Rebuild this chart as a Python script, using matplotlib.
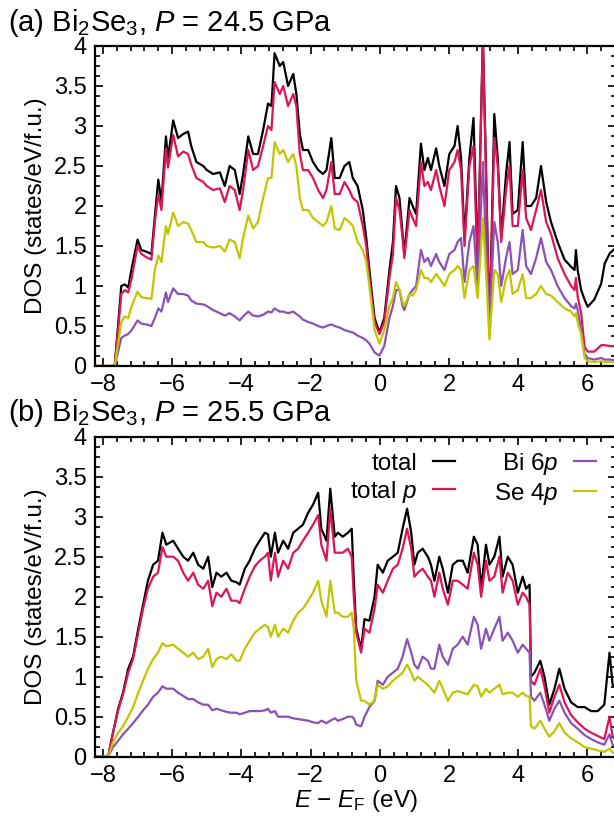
import numpy as np
import matplotlib
matplotlib.use("Agg")
import matplotlib.pyplot as plt
from matplotlib.ticker import MultipleLocator

plt.rcParams['font.family'] = ['Liberation Sans', 'DejaVu Sans']
plt.rcParams['mathtext.fontset'] = 'custom'
plt.rcParams['mathtext.rm'] = 'Liberation Sans'
plt.rcParams['mathtext.it'] = 'Liberation Sans:italic'
plt.rcParams['font.size'] = 17

# ---- panel (a): P = 24.5 GPa ----
e_a = [-8.23, -7.66, -7.47, -7.37, -7.27, -7.17, -7.0, -6.89, -6.75, -6.6,
       -6.5, -6.4, -6.31, -6.18, -6.12, -5.97, -5.83, -5.68, -5.54, -5.45,
       -5.3, -5.1, -5.0, -4.82, -4.62, -4.48, -4.34, -4.19, -4.05, -3.95,
       -3.8, -3.66, -3.52, -3.37, -3.23, -3.13, -3.04, -2.89, -2.79, -2.65,
       -2.5, -2.41, -2.31, -2.22, -2.07, -1.93, -1.78, -1.64, -1.54, -1.4,
       -1.3, -1.16, -1.02, -0.88, -0.78, -0.64, -0.49, -0.39, -0.3, -0.15,
       -0.01, 0.13, 0.28, 0.38, 0.47, 0.57, 0.66, 0.71, 0.86, 0.95,
       1.05, 1.19, 1.29, 1.39, 1.48, 1.63, 1.72, 1.87, 2.01, 2.16,
       2.25, 2.35, 2.45, 2.59, 2.71, 2.83, 2.98, 3.07, 3.17, 3.31,
       3.41, 3.51, 3.65, 3.75, 3.84, 3.99, 4.13, 4.23, 4.37, 4.52,
       4.66, 4.81, 4.95, 5.14, 5.34, 5.53, 5.63, 5.67, 5.72, 5.82,
       5.92, 6.01, 6.2, 6.4, 6.5, 6.65, 6.85]
tot_a = [0, 0, 1.0, 1.02, 0.98, 1.22, 1.58, 1.45, 1.43, 1.4,
         1.87, 2.33, 2.05, 2.87, 2.6, 3.07, 2.85, 2.9, 2.93, 2.75,
         2.55, 2.5, 2.45, 2.4, 2.42, 2.25, 2.5, 2.45, 2.15, 2.4,
         2.87, 2.65, 2.65, 2.95, 3.28, 3.25, 3.91, 3.75, 3.8, 3.5,
         3.65, 3.4, 2.9, 2.7, 2.7, 2.55, 2.45, 2.4, 2.45, 2.85,
         2.35, 2.35, 2.5, 2.55, 2.35, 2.25, 1.95, 1.6, 1.2, 0.6,
         0.42, 0.6, 1.2, 1.55, 2.25, 2.1, 1.65, 1.4, 2.1, 2.0,
         1.9, 2.78, 2.45, 2.6, 2.45, 2.72, 2.5, 2.25, 2.65, 2.75,
         3.0, 2.6, 1.6, 2.6, 3.1, 1.3, 4.1, 2.5, 0.4, 3.15,
         2.6, 1.6, 2.4, 2.8, 1.9, 1.95, 2.8, 2.0, 2.0, 2.1,
         2.5, 2.05, 1.8, 1.55, 1.33, 1.24, 1.2, 1.45, 1.2, 0.95,
         0.83, 0.74, 0.83, 1.03, 1.28, 1.41, 1.49]
totp_a = [0, 0, 0.9, 0.95, 0.92, 1.1, 1.5, 1.4, 1.36, 1.33,
          1.8, 2.15, 1.95, 2.72, 2.48, 2.89, 2.62, 2.68, 2.65, 2.52,
          2.35, 2.3, 2.25, 2.2, 2.22, 2.05, 2.25, 2.2, 1.95, 2.2,
          2.7, 2.45, 2.5, 2.75, 3.0, 2.95, 3.55, 3.4, 3.5, 3.25,
          3.4, 3.25, 2.65, 2.45, 2.45, 2.35, 2.2, 2.1, 2.2, 2.55,
          2.15, 2.15, 2.3, 2.2, 2.1, 2.05, 1.75, 1.5, 1.1, 0.55,
          0.4, 0.55, 1.1, 1.4, 2.1, 1.95, 1.6, 1.35, 1.95, 1.85,
          1.75, 2.55, 2.25, 2.3, 2.2, 2.45, 2.25, 2.0, 2.45, 2.55,
          2.7, 2.45, 1.5, 2.5, 2.75, 1.2, 4.1, 2.4, 0.4, 2.85,
          2.5, 1.55, 2.2, 2.5, 1.75, 1.75, 2.45, 1.85, 1.7, 1.95,
          2.2, 1.8, 1.65, 1.35, 1.15, 1.0, 0.95, 1.1, 0.87, 0.66,
          0.24, 0.18, 0.18, 0.26, 0.26, 0.25, 0.25]
bi6p_a = [0, 0, 0.35, 0.38, 0.4, 0.45, 0.57, 0.53, 0.52, 0.5,
          0.6, 0.72, 0.68, 0.92, 0.8, 0.97, 0.9, 0.9, 0.88, 0.82,
          0.78, 0.77, 0.75, 0.7, 0.66, 0.63, 0.66, 0.62, 0.57, 0.62,
          0.68, 0.63, 0.62, 0.64, 0.68, 0.67, 0.72, 0.68, 0.68, 0.66,
          0.68, 0.65, 0.62, 0.58, 0.55, 0.53, 0.5, 0.48, 0.5, 0.52,
          0.5, 0.48, 0.45, 0.43, 0.42, 0.38, 0.35, 0.32, 0.28, 0.17,
          0.13, 0.25, 0.6, 0.75, 0.95, 0.95, 0.75, 0.7, 0.9, 0.95,
          1.0, 1.45, 1.3, 1.35, 1.25, 1.4, 1.3, 1.2, 1.4, 1.45,
          1.55, 1.6, 1.05, 1.55, 1.75, 0.95, 2.55, 1.5, 0.5, 1.8,
          1.55, 1.0, 1.35, 1.55, 1.15, 1.2, 1.7, 1.25, 1.15, 1.35,
          1.6, 1.3, 1.2, 1.0, 0.85, 0.75, 0.72, 0.78, 0.7, 0.45,
          0.15, 0.1, 0.08, 0.1, 0.08, 0.08, 0.07]
se4p_a = [0, 0, 0.55, 0.62, 0.6, 0.75, 0.93, 0.86, 0.85, 0.84,
          1.2, 1.38, 1.3, 1.75, 1.65, 1.92, 1.75, 1.8, 1.78, 1.7,
          1.55, 1.55, 1.5, 1.48, 1.5, 1.43, 1.58, 1.55, 1.35, 1.6,
          1.88, 1.72, 1.8, 2.1, 2.35, 2.35, 2.8, 2.65, 2.7, 2.55,
          2.65, 2.5, 2.1, 1.95, 1.95, 1.85, 1.8, 1.75, 1.8, 2.0,
          1.72, 1.7, 1.85, 1.8, 1.75, 1.55, 1.45, 1.3, 1.0, 0.45,
          0.28, 0.45, 0.75, 0.85, 1.05, 0.95, 0.8, 0.75, 0.9, 0.88,
          0.95, 1.2, 1.1, 1.1, 1.05, 1.15, 1.1, 1.0, 1.15, 1.2,
          1.25, 1.2, 0.85, 1.2, 1.25, 0.85, 1.85, 1.2, 0.33, 1.2,
          1.15, 0.8, 1.1, 1.2, 0.9, 0.95, 1.15, 0.85, 0.85, 0.9,
          1.0, 0.9, 0.88, 0.8, 0.72, 0.68, 0.62, 0.66, 0.55, 0.4,
          0.1, 0.06, 0.05, 0.06, 0.05, 0.05, 0.04]

# ---- panel (b): P = 25.5 GPa ----
e_b = [-8.23, -7.85, -7.71, -7.56, -7.42, -7.27, -7.13, -6.98, -6.84, -6.7,
       -6.55, -6.41, -6.28, -6.17, -5.97, -5.83, -5.68, -5.54, -5.39, -5.25,
       -5.1, -4.96, -4.84, -4.72, -4.58, -4.43, -4.29, -4.14, -4.05, -3.9,
       -3.76, -3.61, -3.47, -3.32, -3.23, -3.15, -3.03, -2.94, -2.79, -2.65,
       -2.5, -2.36, -2.22, -2.07, -1.93, -1.78, -1.69, -1.54, -1.43, -1.3,
       -1.21, -1.07, -0.92, -0.81, -0.75, -0.68, -0.54, -0.44, -0.3, -0.15,
       -0.06, 0.09, 0.23, 0.38, 0.52, 0.66, 0.79, 0.91, 1.0, 1.1,
       1.24, 1.39, 1.48, 1.58, 1.72, 1.82, 1.97, 2.11, 2.25, 2.4,
       2.54, 2.72, 2.83, 2.93, 3.07, 3.17, 3.31, 3.46, 3.55, 3.7,
       3.84, 3.99, 4.13, 4.23, 4.33, 4.37, 4.47, 4.64, 4.76, 4.9,
       5.05, 5.19, 5.34, 5.53, 5.72, 5.92, 6.11, 6.3, 6.49, 6.64,
       6.73, 6.85]
tot_b = [0, 0, 0.3, 0.6, 0.8, 1.1, 1.25, 1.6, 1.9, 2.2,
         2.4, 2.45, 2.8, 2.65, 2.7, 2.6, 2.5, 2.45, 2.55, 2.4,
         2.35, 2.5, 2.12, 2.3, 2.25, 2.3, 2.2, 2.18, 2.15, 2.35,
         2.45, 2.6, 2.7, 2.8, 2.78, 2.5, 2.8, 2.55, 2.7, 2.6,
         2.8, 2.85, 2.9, 3.05, 3.15, 3.3, 2.85, 2.7, 3.35, 2.75,
         2.8, 2.75, 2.8, 2.85, 2.2, 1.6, 1.35, 1.72, 1.7, 2.0,
         2.4, 2.3, 2.45, 2.5, 2.55, 2.85, 3.1, 2.8, 2.4, 2.55,
         2.6, 2.5, 2.4, 2.2, 2.5, 2.35, 2.05, 2.4, 2.45, 2.45,
         2.3, 2.75, 2.65, 2.1, 2.65, 2.4, 2.5, 2.75, 2.25, 2.5,
         2.4, 2.05, 2.25, 2.1, 2.15, 1.0, 1.05, 1.2, 1.0, 0.65,
         0.85, 1.1, 0.85, 0.68, 0.62, 0.62, 0.57, 0.57, 0.65, 1.3,
         0.9, 0.85]
totp_b = [0, 0, 0.3, 0.58, 0.78, 1.05, 1.22, 1.55, 1.85, 2.1,
          2.25, 2.3, 2.62, 2.5, 2.5, 2.45, 2.3, 2.2, 2.3, 2.15,
          2.1, 2.2, 1.88, 2.05, 2.0, 2.1, 1.95, 1.95, 1.92, 2.1,
          2.25, 2.38, 2.45, 2.5, 2.55, 2.2, 2.55, 2.25, 2.45, 2.35,
          2.55, 2.6, 2.7, 2.8, 2.9, 3.02, 2.65, 2.45, 3.1, 2.55,
          2.55, 2.55, 2.6, 2.5, 2.0, 1.55, 1.3, 1.6, 1.55, 1.85,
          2.15, 2.05, 2.2, 2.35, 2.4, 2.6, 2.85, 2.6, 2.25, 2.3,
          2.35, 2.25, 2.2, 2.0, 2.3, 2.1, 1.9, 2.2, 2.2, 2.15,
          2.1, 2.55, 2.4, 2.0, 2.45, 2.2, 2.25, 2.5, 2.05, 2.3,
          2.2, 1.9, 2.05, 2.0, 1.9, 0.95, 0.9, 1.1, 0.88, 0.55,
          0.75, 0.9, 0.68, 0.52, 0.43, 0.35, 0.3, 0.26, 0.22, 0.5,
          0.25, 0.2]
bi6p_b = [0, 0, 0.12, 0.2, 0.28, 0.35, 0.42, 0.5, 0.58, 0.65,
          0.75, 0.8, 0.88, 0.85, 0.85, 0.8, 0.76, 0.72, 0.72, 0.68,
          0.65, 0.65, 0.58, 0.6, 0.58, 0.56, 0.55, 0.55, 0.53, 0.55,
          0.57, 0.57, 0.57, 0.58, 0.6, 0.55, 0.57, 0.5, 0.5, 0.5,
          0.48, 0.47, 0.46, 0.45, 0.43, 0.42, 0.45, 0.42, 0.45, 0.48,
          0.45, 0.47, 0.5, 0.5, 0.48, 0.4, 0.38, 0.5, 0.62, 0.7,
          0.95, 0.9, 1.0, 1.05, 1.1, 1.25, 1.47, 1.3, 1.15, 1.1,
          1.25, 1.2, 1.1, 1.1, 1.4, 1.25, 1.15, 1.35, 1.4, 1.5,
          1.4, 1.75, 1.65, 1.35, 1.6, 1.45, 1.6, 1.75, 1.45, 1.55,
          1.45, 1.3, 1.4, 1.35, 1.3, 0.75, 0.7, 0.8, 0.65, 0.45,
          0.6, 0.7, 0.55, 0.42, 0.35, 0.27, 0.22, 0.18, 0.15, 0.28,
          0.15, 0.12]
se4p_b = [0, 0, 0.18, 0.3, 0.38, 0.5, 0.62, 0.8, 0.95, 1.1,
          1.22, 1.3, 1.42, 1.38, 1.4, 1.35, 1.3, 1.25, 1.3, 1.22,
          1.25, 1.35, 1.12, 1.22, 1.25, 1.22, 1.28, 1.2, 1.2, 1.35,
          1.45, 1.55, 1.6, 1.65, 1.62, 1.5, 1.65, 1.5, 1.6, 1.55,
          1.7, 1.8, 1.85, 1.95, 2.05, 2.2, 1.95, 1.75, 2.2, 1.8,
          1.8, 1.75, 1.75, 1.8, 1.6, 0.95, 0.7, 0.7, 0.65, 0.7,
          0.9, 0.85, 0.88, 0.95, 1.0, 1.05, 1.15, 1.05, 0.95, 1.0,
          0.95, 0.9, 0.85, 0.8, 0.95, 0.85, 0.7, 0.8, 0.82, 0.8,
          0.78, 0.9, 0.88, 0.75, 0.85, 0.8, 0.85, 0.9, 0.78, 0.8,
          0.8, 0.75, 0.8, 0.76, 0.75, 0.38, 0.35, 0.45, 0.35, 0.25,
          0.32, 0.42, 0.3, 0.23, 0.18, 0.12, 0.1, 0.08, 0.06, 0.1,
          0.05, 0.04]

labels = ['total', 'total $p$', 'Bi 6$p$', 'Se 4$p$']
colors = ['#000000', '#dc1458', '#8a52b6', '#c2c600']
titles = ['(a) Bi$_2$Se$_3$, $P$ = 24.5 GPa', '(b) Bi$_2$Se$_3$, $P$ = 25.5 GPa']

W, H = 614, 825
fig = plt.figure(figsize=(W / 100, H / 100), dpi=100)

left = 95 / W
width = (616 - 95) / W
ax_a = fig.add_axes([left, 1 - 366 / H, width, 320 / H])
ax_b = fig.add_axes([left, 1 - 756.7 / H, width, 320 / H])

panels = [(ax_a, e_a, [tot_a, totp_a, bi6p_a, se4p_a]),
          (ax_b, e_b, [tot_b, totp_b, bi6p_b, se4p_b])]

for i, (ax, e, series) in enumerate(panels):
    for y, c, lab in zip(series, colors, labels):
        ax.plot(e, y, color=c, lw=1.6, label=lab)
    ax.set_xlim(-8.23, -8.23 + (616 - 95) / 34.6)
    ax.set_ylim(0, 4)
    ax.xaxis.set_minor_locator(MultipleLocator(0.4))
    ax.yaxis.set_minor_locator(MultipleLocator(0.125))
    ax.tick_params(which='both', direction='in', top=True, right=True, width=1.2)
    ax.tick_params(which='major', length=6, labelsize=17, pad=6)
    ax.tick_params(which='minor', length=3.5)
    for s in ax.spines.values():
        s.set_linewidth(1.6)
    ax.set_yticks([0, 0.5, 1, 1.5, 2, 2.5, 3, 3.5, 4])
    ax.set_yticklabels(['0', '0.5', '1', '1.5', '2', '2.5', '3', '3.5', '4'])
    ax.set_xticks([-8, -6, -4, -2, 0, 2, 4, 6])
    ax.set_ylabel('DOS (states/eV/f.u.)', fontsize=17.5, labelpad=5)
    fig.text(8 / W, 1 - (31 if i == 0 else 421) / H, titles[i], fontsize=21,
             ha='left', va='baseline')

ax_b.set_xlabel('$E$ − $E_\\mathrm{F}$ (eV)', fontsize=17.5, labelpad=1)

ax_b.legend(ncol=2, markerfirst=False, frameon=False, fontsize=17.5,
            handlelength=0.9, handletextpad=0.65, columnspacing=1.6,
            labelspacing=0.15, borderpad=0, borderaxespad=0, loc='upper right',
            bbox_to_anchor=(596 / W, 1 - 451 / H), bbox_transform=fig.transFigure)

fig.savefig('out.png', dpi=100)
